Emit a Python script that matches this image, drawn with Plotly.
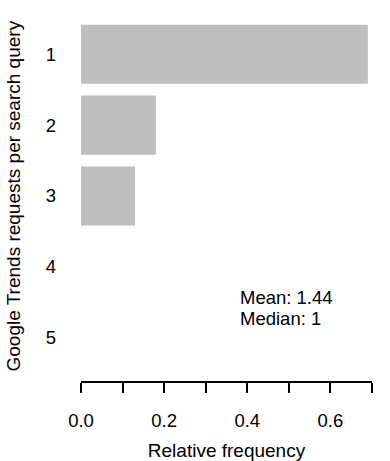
import plotly.graph_objects as go

categories = ["1", "2", "3", "4", "5"]
rel_freq = [0.69, 0.18, 0.13, 0.0, 0.0]
x_ticks = [0.0, 0.1, 0.2, 0.3, 0.4, 0.5, 0.6, 0.7]
x_ticktext = ["0.0", "", "0.2", "", "0.4", "", "0.6", ""]
stats_lines = ["Mean: 1.44", "Median: 1"]

font = "Liberation Sans, Arial, Helvetica, sans-serif"
fs = 18.5

fig = go.Figure()
fig.add_trace(go.Bar(
    x=rel_freq, y=categories, orientation="h",
    marker=dict(color="#bebebe", line=dict(width=0)),
    showlegend=False,
))

fig.update_layout(
    width=390, height=461, autosize=False,
    margin=dict(l=81, r=18, t=11, b=80),
    plot_bgcolor="white", paper_bgcolor="white",
    bargap=0.167,
    font=dict(family=font, size=fs, color="black"),
)

fig.update_xaxes(
    range=[0, 0.7], tickvals=x_ticks, ticktext=x_ticktext,
    automargin=False,
    showgrid=False, zeroline=False,
    showline=True, linecolor="black", linewidth=2,
    ticks="outside", ticklen=10, tickwidth=2, tickcolor="black",
    ticklabelstandoff=12,
    title=dict(text="Relative frequency", standoff=20, font=dict(size=19)),
)
fig.update_yaxes(
    type="category", categoryorder="array", categoryarray=categories,
    range=[4.61, -0.61], automargin=False,
    showgrid=False, zeroline=False, showline=False, ticks="",
    ticklabelstandoff=24,
)

# y axis title, placed like R's ylab
fig.add_annotation(
    x=0, y=0.5, xref="paper", yref="paper", xshift=-68.5,
    text="Google Trends requests per search query", textangle=-90,
    showarrow=False, xanchor="center", yanchor="middle",
    font=dict(size=19),
)

for yy, line in zip([0.227, 0.168], stats_lines):
    fig.add_annotation(
        x=0.377, y=yy, xref="x", yref="paper",
        text=line, showarrow=False,
        xanchor="left", yanchor="middle", align="left",
    )

# drop the default body margin so the figure sits at the page corner
fig.write_html("out.html", config={"displayModeBar": False},
               post_script="document.body.style.margin='0';")
